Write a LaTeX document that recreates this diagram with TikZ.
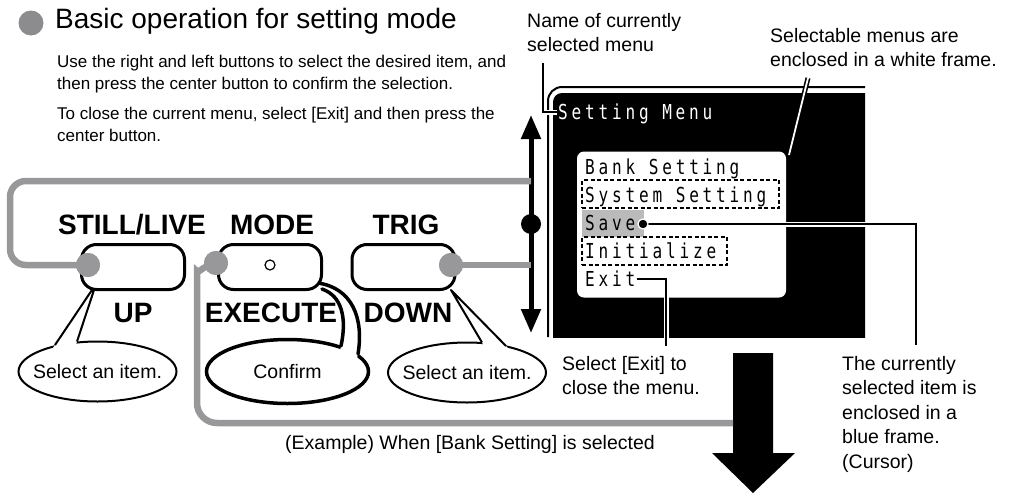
\documentclass[tikz,border=0pt]{standalone}
\usepackage{fontspec}
\setmainfont{Liberation Sans}
\newfontfamily\lcdfont[FakeStretch=0.78,LetterSpace=18.5]{DejaVu Sans Mono}
\usepackage{tikz}
\usetikzlibrary{shapes.geometric,arrows.meta,calc}
\definecolor{leadgray}{RGB}{152,152,154}
\definecolor{bulletgray}{RGB}{140,140,142}
\definecolor{cursorgray}{RGB}{186,186,186}

\begin{document}
\begin{tikzpicture}[
    x=1pt, y=-1pt,
    intro/.style={font=\fontsize{17}{22}\selectfont, align=left, anchor=base west, inner sep=0pt},
    note/.style={font=\fontsize{19.5}{24.5}\selectfont, align=left, anchor=base west, inner sep=0pt},
    btn/.style={draw, line width=3pt, fill=white, rounded corners=15pt, minimum width=103pt, minimum height=45pt, inner sep=0pt},
    keylabel/.style={font=\fontsize{28}{30}\selectfont\bfseries, anchor=base, inner sep=0pt},
    graydot/.style={circle, fill=leadgray, minimum size=24pt, inner sep=0pt},
    grayline/.style={draw=leadgray, line width=6.5pt},
    bubble/.style={ellipse, draw, line width=2pt, fill=white, minimum width=158pt, minimum height=60pt, inner sep=0pt, font=\fontsize{19.5}{24}\selectfont},
    lcd/.style={font=\fontsize{20.6}{24}\lcdfont, anchor=base west, inner sep=0pt},
    cursor/.style={draw, line width=1.8pt, dash pattern=on 4pt off 2.5pt, inner sep=0pt},
    leader/.style={line width=1.6pt, preaction={draw=white, line width=5pt}},
    twinline/.style={draw=white, line width=1.8pt, preaction={draw=black, line width=5pt}}
]
\useasboundingbox (0,0) rectangle (1015,493);

% Heading (multi-line texts are placed by the baseline of their last line)
\node[circle, fill=bulletgray, minimum size=25pt, inner sep=0pt] (bullet) at (31,23) {};
\node[anchor=base west, inner sep=0pt, font=\fontsize{28}{32}\selectfont] (title) at (55,28) {Basic operation for setting mode};
\node[intro] (howto) at (57,89) {Use the right and left buttons to select the desired item, and\\then press the center button to confirm the selection.};
\node[intro] (howclose) at (57,141) {To close the current menu, select [Exit] and then press the\\center button.};

% Callouts
\node[bubble] (selup) at (97.5,371.5) {\makebox[0pt]{Select an item.}};
\node[bubble, line width=3.5pt, minimum width=162pt, minimum height=64pt] (confirm) at (287.5,371.5) {\makebox[0pt]{Confirm}};
\node[bubble] (seldown) at (467,372.5) {\makebox[0pt]{Select an item.}};

\coordinate (uptip) at (96,284);
\coordinate (upA) at (55,345);
\coordinate (upB) at (77,341.5);
\fill[white] (uptip) -- ($(uptip)!1.12!(upA)$) -- ($(uptip)!1.12!(upB)$) -- cycle;
\draw[line width=2pt, line join=round] (upA) -- (uptip) -- (upB);

\coordinate (downtip) at (451,290);
\coordinate (downA) at (482,342.5);
\coordinate (downB) at (506,346);
\fill[white] (downtip) -- ($(downtip)!1.12!(downA)$) -- ($(downtip)!1.12!(downB)$) -- cycle;
\draw[line width=2pt, line join=round] (downA) -- (downtip) -- (downB);

\fill[white] (318,283) .. controls (352,288) and (364,318) .. (358,354) -- (356,362) -- (339,356) -- (341,346) .. controls (347,318) and (342,296) .. (322,289) -- cycle;
\draw[line width=3.5pt, line cap=round] (318,283) .. controls (352,288) and (364,318) .. (358,354);
\draw[line width=3.5pt, line cap=round] (341,346) .. controls (347,318) and (342,296) .. (322,289);

% Buttons
\node[btn] (up) at (133,267) {};
\node[btn] (exec) at (270,267) {};
\node[btn] (down) at (403.5,267) {};
\node[circle, draw, line width=1.2pt, minimum size=10pt, inner sep=0pt] (modering) at (270,265) {};

\node[keylabel] (stilllive) at (132,234) {STILL/LIVE};
\node[keylabel] (modelbl) at (272,234) {MODE};
\node[keylabel] (triglbl) at (406,234) {TRIG};
\node[keylabel] (uplbl) at (133,322) {UP};
\node[keylabel] (execlbl) at (271,322) {EXECUTE};
\node[keylabel] (downlbl) at (408,322) {DOWN};

% Scroll arrow
\coordinate (scrolltop) at (531,115);
\coordinate (scrollbot) at (531,333);
\coordinate (railup) at (531,181);
\coordinate (raildown) at (531,265);
\draw[line width=5pt, {Triangle[length=24pt,width=19pt]}-{Triangle[length=24pt,width=19pt]}] (scrolltop) -- (scrollbot);
\node[circle, fill=black, minimum size=20pt, inner sep=0pt] (knob) at (531,224) {};

% Big arrow
\fill (733,353) -- (773,353) -- (773,453) -- (795,453) -- (753,493) -- (712,453) -- (733,453) -- cycle;
\coordinate (shaftL) at (733,423);

% Gray connectors
\node[graydot] (dotup) at (88,265) {};
\node[graydot] (dotexec) at (216,263) {};
\node[graydot] (dotdown) at (451,265) {};
\draw[grayline, rounded corners=16pt] (dotup.center) -- ++(-78,0) |- (railup);
\draw[grayline] (dotdown.center) -- (raildown);
\draw[grayline, rounded corners=20pt] (dotexec.center) .. controls +(-14,3) and +(0,-16) .. ++(-19,28) |- (shaftL);
\node[graydot] at (dotup) {};
\node[graydot] at (dotexec) {};
\node[graydot] at (dotdown) {};

% Screen
\draw[line width=2pt, rounded corners=14pt] (865,87) -| (548,337);
\begin{scope}
  \clip (540,80) rectangle (865,337);
  \fill[rounded corners=9pt] (553,93) rectangle (885,357);
\end{scope}
\node[fill=white, rounded corners=7pt, minimum width=209pt, minimum height=146pt, inner sep=0pt] (menubox) at (681.5,224.5) {};
\node[fill=cursorgray, minimum width=62pt, minimum height=27pt, inner sep=0pt] (savehl) at (613,223) {};
\node[cursor, minimum width=197pt, minimum height=28pt] (sysframe) at (680.5,194) {};
\node[cursor, minimum width=145pt, minimum height=28pt] (iniframe) at (654.5,251) {};

\node[lcd, text=white] (menutitle) at (558,119.5) {Setting Menu};
\node[lcd] (bank) at (585,174.5) {Bank Setting};
\node[lcd] (system) at (585,202.5) {System Setting};
\node[lcd] (save) at (585,230.5) {Save};
\node[lcd] (init) at (585,258.5) {Initialize};
\node[lcd] (exit) at (585,286.5) {Exit};

% Leaders
\coordinate (nametop) at (543,63);
\coordinate (nametip) at (557,112);
\coordinate (exittip) at (637,279);
\coordinate (exitfoot) at (666,346);
\coordinate (savefoot) at (916,345);
\coordinate (framehi) at (808,78);
\coordinate (framelo) at (789,155);
\draw[leader] (nametop) |- (nametip);
\draw[leader] (exittip) -| (exitfoot);
\draw[leader] (643,224) -| (savefoot);
\node[circle, fill=black, draw=white, line width=1.2pt, minimum size=10pt, inner sep=0pt] (savedot) at (643,224) {};
\draw[twinline] (framehi) -- (framelo);

% Notes
\node[note] (namenote) at (527,51.5) {Name of currently\\selected menu};
\node[note] (selnote) at (770,66.5) {Selectable menus are\\enclosed in a white frame.};
\node[note] (exitnote) at (562,394.5) {Select [Exit] to\\close the menu.};
\node[note] (curnote) at (842,468) {The currently\\selected item is\\enclosed in a\\blue frame.\\(Cursor)};
\node[note] (example) at (285,449) {(Example) When [Bank Setting] is selected};

\end{tikzpicture}
\end{document}
